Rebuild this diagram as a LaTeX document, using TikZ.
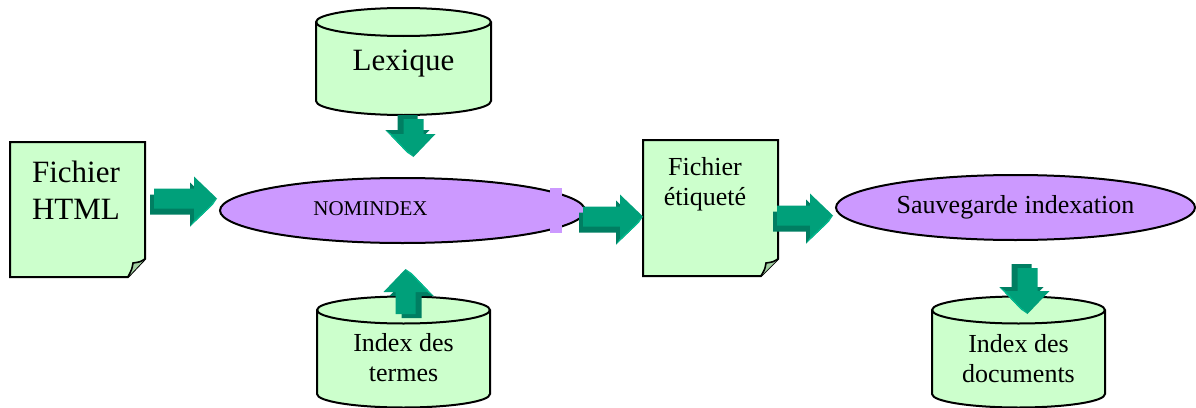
\documentclass[tikz,border=0pt]{standalone}
\usepackage{fontspec}
\setmainfont{Liberation Serif}
\usetikzlibrary{shapes.geometric}
\usetikzlibrary{calc}

\definecolor{pagegreen}{RGB}{204,255,204}
\definecolor{foldgreen}{RGB}{163,209,163}
\definecolor{ovalpurple}{RGB}{204,153,255}
\definecolor{arrowfront}{RGB}{0,160,122}
\definecolor{arrowback}{RGB}{0,126,98}
\definecolor{arrowlight}{RGB}{0,186,142}

\tikzset{
  page/.style={draw=black,line width=1.5pt,fill=pagegreen,line join=miter},
  can/.style={draw=black,line width=1.5pt,fill=pagegreen},
  oval/.style={ellipse,draw=black,line width=1.5pt,fill=ovalpurple,inner sep=0pt},
  bigtxt/.style={align=center,inner sep=0pt,font=\fontsize{23.25}{27.75}\selectfont},
  midtxt/.style={align=center,inner sep=0pt,font=\fontsize{19.5}{22.5}\selectfont},
  smalltxt/.style={inner sep=0pt,font=\fontsize{15.75}{18}\selectfont},
  pics/blockarrow/.style={code={
    \fill[arrowback,shift={(-4,-6)}] (0,0) -- (-23,-22) -- (-23,-10) -- (-#1,-10) -- (-#1,10) -- (-23,10) -- (-23,22) -- cycle;
    \fill[arrowlight] (0,0) -- (-4,-6) -- (-27,-28) -- (-23,-22) -- cycle;
    \fill[arrowfront] (0,0) -- (-23,-22) -- (-23,-10) -- (-#1,-10) -- (-#1,10) -- (-23,10) -- (-23,22) -- cycle;
  }},
}

\begin{document}
\begin{tikzpicture}[x=0.75pt,y=0.75pt,yscale=-1,xscale=1]
\useasboundingbox (0,0) rectangle (1196,407);

%Shape: Document [Fichier HTML]
\draw[page] (10,142) -- (145,142) -- (145,259) -- (128,277) -- (10,277) -- cycle;
\draw[line width=1.2pt,fill=foldgreen] (145,259) .. controls (140,262) .. (133,263) .. controls (132,269) .. (128,277);
%Shape: Document [Fichier etiquete]
\draw[page] (643,140) -- (778,140) -- (778,259) -- (761,276) -- (643,276) -- cycle;
\draw[line width=1.2pt,fill=foldgreen] (778,259) .. controls (773,262) .. (766,263) .. controls (765,269) .. (761,276);

%Shape: Can [Lexique]
\draw[can] (316,22) -- (316,101) arc[start angle=180,end angle=0,x radius=87.5,y radius=14] -- (491,22) arc[start angle=0,end angle=-180,x radius=87.5,y radius=14] -- cycle;
\draw[line width=1.5pt] (316,22) arc[start angle=180,end angle=0,x radius=87.5,y radius=14];
%Shape: Can [Index des termes]
\draw[can] (317,310) -- (317,394) arc[start angle=180,end angle=0,x radius=86.5,y radius=13.5] -- (490,310) arc[start angle=0,end angle=-180,x radius=86.5,y radius=13.5] -- cycle;
\draw[line width=1.5pt] (317,310) arc[start angle=180,end angle=0,x radius=86.5,y radius=13.5];
%Shape: Can [Index des documents]
\draw[can] (932,310) -- (932,394) arc[start angle=180,end angle=0,x radius=86.5,y radius=13.5] -- (1105,310) arc[start angle=0,end angle=-180,x radius=86.5,y radius=13.5] -- cycle;
\draw[line width=1.5pt] (932,310) arc[start angle=180,end angle=0,x radius=86.5,y radius=13.5];

%Shape: Ellipse
\node[oval,minimum width=273.75pt,minimum height=48.75pt] (nom) at (402.5,210.5) {};
\fill[ovalpurple] (550,188) rectangle (562,233);
%Shape: Ellipse
\node[oval,minimum width=269.25pt,minimum height=48.75pt,font=\fontsize{19.5}{22}\selectfont] (sauv) at (1015.5,207.5) {Sauvegarde indexation};

% Text Node
\node[bigtxt] (html) at (76,190) {Fichier\\HTML};
% Text Node
\node[midtxt] (etiq) at (705,184) {Fichier\\étiqueté};
% Text Node
\node[bigtxt] (lex) at (403.5,64) {Lexique};
% Text Node
\node[midtxt] (termes) at (403.5,358) {Index des\\termes};
% Text Node
\node[midtxt] (docs) at (1018.5,358.5) {Index des\\documents};
% Text Node
\node[smalltxt] (nomtxt) at (370.5,209) {NOMINDEX};

%Block Arrows
\pic at ($(nom.west)+(-2,-12)$) {blockarrow=63};
\pic at ($(nom.east)+(57,6)$) {blockarrow=60};
\pic at ($(sauv.west)+(-2,8)$) {blockarrow=56};
\pic[rotate=-90] at ($(nom.north)+(11,-20)$) {blockarrow=38};
\pic[rotate=90] at ($(nom.south)+(3,25)$) {blockarrow=45};
\pic[rotate=-90] at ($(sauv.south)+(12,73)$) {blockarrow=46};

\end{tikzpicture}
\end{document}
